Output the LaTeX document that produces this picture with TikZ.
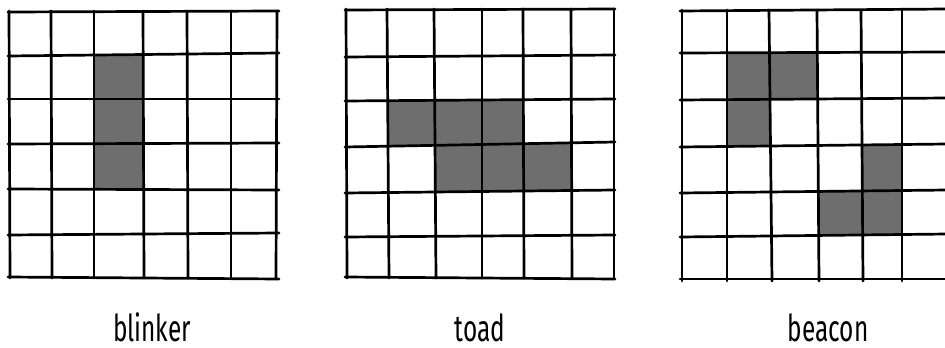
\documentclass[tikz,border=0pt]{standalone}
\usepackage{fontspec}
\newfontfamily\handfont[FakeStretch=0.66]{Fira Sans}
\definecolor{celda}{HTML}{6E6E6E}
\begin{document}
\begin{tikzpicture}[x=1pt, y=-1pt, line width=2.7pt, line cap=round, line join=round,
    cell/.style={fill=celda},
    namelabel/.style={anchor=base, inner sep=0pt, font=\handfont\fontsize{37}{40}\selectfont}]
  \useasboundingbox (0,0) rectangle (945,348);
  % blinker
  \fill[cell] (94,54) rectangle (143.5,189.5);
  \foreach \xa/\xb in {9/10,51/52,94/94,143/144,187/188,231/231,277/276} \draw (\xa,11) -- (\xb,278);
  \foreach \ya/\yb in {12/11,56/53,99/99,144/143,189/190,235/233,277/279} \draw (8,\ya) -- (279,\yb);
  % toad
  \fill[cell] (387,101) -- (523,100) -- (523,143) -- (387,146) -- cycle;
  \fill[cell] (435,145) -- (571,143) -- (572,191) -- (435,192) -- cycle;
  \foreach \xa/\xb in {346/347,387/389,434/436,482/482,523/524,571/572,614/614} \draw (\xa,9) -- (\xb,278);
  \foreach \ya/\yb in {10/9,57/55,101/99,147/142,193/190,237/235,277/279} \draw (345,\ya) -- (615,\yb);
  % beacon
  \fill[cell] (727,53) rectangle (818,99.5);
  \fill[cell] (727,99.5) rectangle (770,146.5);
  \fill[cell] (861.5,145.5) rectangle (902,191.5);
  \fill[cell] (818,191.5) rectangle (902,236);
  \foreach \xa/\xb in {682/682,727/727,769/772,817/819,861/863,902/902,947/947} \draw (\xa,10) -- (\xb,281);
  \foreach \ya/\yb in {11/9,53/52,100/98,147/144,193/190,237/234,279/279} \draw (680,\ya) -- (947,\yb);
  % los nombres
  \node[namelabel] (blinker) at (152,341) {blinker};
  \node[namelabel] (toad) at (480,341) {toad};
  \node[namelabel] (beacon) at (828,341) {beacon};
\end{tikzpicture}
\end{document}
